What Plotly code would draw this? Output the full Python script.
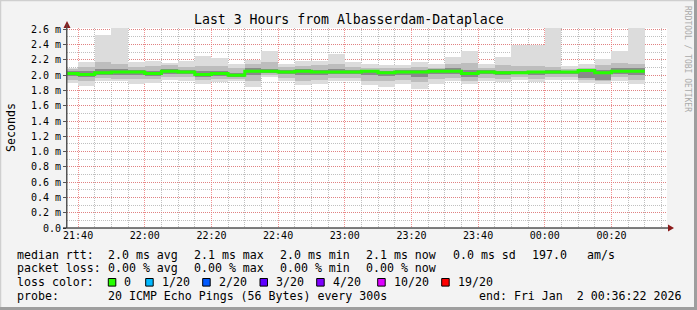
import plotly.graph_objects as go
import pandas as pd

# ---------------- data ----------------
bin_start = pd.date_range("2026-01-01 21:35:00", periods=35, freq="5min")

ping_max = [2.09, 2.17, 2.53, 2.70, 2.17, 2.19, 2.16, 2.19, 2.25, 2.23, 2.14, 2.20, 2.32, 2.15, 2.18,
            2.19, 2.28, 2.17, 2.15, 2.13, 2.13, 2.17, 2.14, 2.24, 2.32, 2.15, 2.24, 2.39, 2.39, 2.70,
            2.12, 2.14, 2.21, 2.31, 2.70]
ping_min = [1.90, 1.86, 1.93, 1.92, 1.88, 1.90, 1.94, 1.93, 1.89, 1.91, 1.92, 1.84, 1.98, 1.92, 1.87,
            1.88, 1.92, 1.93, 1.87, 1.84, 1.88, 1.82, 1.89, 1.93, 1.88, 1.92, 1.91, 1.94, 1.91, 1.94,
            1.94, 1.90, 1.89, 1.93, 1.89]
mid_hi = [2.08, 2.11, 2.17, 2.15, 2.11, 2.12, 2.13, 2.11, 2.12, 2.12, 2.09, 2.15, 2.17, 2.11, 2.12,
          2.13, 2.14, 2.11, 2.10, 2.09, 2.10, 2.11, 2.10, 2.15, 2.16, 2.10, 2.13, 2.12, 2.12, 2.11,
          2.08, 2.10, 2.13, 2.16, 2.14]
mid_lo = [1.94, 1.93, 1.96, 1.95, 1.95, 1.95, 1.98, 1.97, 1.94, 1.95, 1.95, 1.93, 2.00, 1.96, 1.93,
          1.94, 1.96, 1.96, 1.93, 1.92, 1.94, 1.91, 1.95, 1.96, 1.93, 1.96, 1.95, 1.97, 1.95, 1.97,
          1.97, 1.94, 1.92, 1.97, 1.94]
core_hi = [2.05, 2.05, 2.08, 2.08, 2.07, 2.06, 2.08, 2.07, 2.05, 2.06, 2.03, 2.09, 2.08, 2.07, 2.08,
           2.07, 2.08, 2.07, 2.07, 2.06, 2.07, 2.07, 2.08, 2.09, 2.07, 2.07, 2.06, 2.06, 2.06, 2.07,
           2.06, 2.08, 2.07, 2.09, 2.09]
core_lo = [1.99, 1.97, 2.00, 2.00, 2.00, 1.99, 2.02, 2.01, 1.98, 1.99, 1.98, 2.00, 2.03, 2.01, 2.00,
           2.00, 2.01, 2.01, 2.00, 1.99, 2.00, 1.98, 2.01, 2.02, 1.98, 2.01, 2.00, 2.01, 2.00, 2.01,
           2.01, 1.96, 1.94, 2.02, 2.00]
median = [2.02, 2.01, 2.03, 2.04, 2.04, 2.02, 2.05, 2.04, 2.01, 2.02, 2.00, 2.05, 2.05, 2.04, 2.05,
          2.04, 2.04, 2.04, 2.05, 2.03, 2.04, 2.04, 2.05, 2.05, 2.02, 2.04, 2.03, 2.03, 2.04, 2.04,
          2.04, 2.06, 2.03, 2.05, 2.05]

y_ticks = [0.0, 0.2, 0.4, 0.6, 0.8, 1.0, 1.2, 1.4, 1.6, 1.8, 2.0, 2.2, 2.4, 2.6]
y_ticktext = ["0.0"] + ["%.1f m" % v for v in y_ticks[1:]]

loss_labels = ["0", "1/20", "2/20", "3/20", "4/20", "10/20", "19/20"]
loss_colors = ["#26ff00", "#00b8ff", "#0059ff", "#5e00ff", "#7e00ff", "#dd00ff", "#ff0000"]

# ---------------- geometry helpers ----------------
W, H = 697, 310
L, R, T, B = 67, 667, 28, 228
MONO = "DejaVu Sans Mono"


def px(x):
    return (x - L) / (R - L)


def py(y):
    return (B - y) / (B - T)


centers = bin_start + pd.Timedelta(minutes=2.5)
BW = 300000  # 5 min in ms

fig = go.Figure()


def layer(lo, hi, color):
    fig.add_trace(go.Bar(
        x=centers, y=[h - l for h, l in zip(hi, lo)], base=lo, width=BW,
        marker=dict(color=color, line=dict(width=0)), showlegend=False, hoverinfo="skip"))


layer(ping_min, ping_max, "#dcdcdc")
layer(mid_lo, mid_hi, "#bdbdbd")
layer(core_lo, core_hi, "#8a8a8a")

med_x = list(bin_start) + [bin_start[-1] + pd.Timedelta(minutes=5)]
med_y = median + [median[-1]]
fig.add_trace(go.Scatter(x=med_x, y=med_y, mode="lines", line=dict(color="#26ff00", width=3, shape="hv"),
                         showlegend=False, hoverinfo="skip"))

fig.update_layout(
    width=W, height=H, autosize=False,
    margin=dict(l=L, r=W - R, t=T, b=H - B, pad=0),
    paper_bgcolor="#f3f3f3", plot_bgcolor="#ffffff",
    barmode="overlay", bargap=0,
    font=dict(family=MONO, size=10, color="#000000"),
    showlegend=False,
)

fig.update_xaxes(
    type="date", range=["2026-01-01 21:36:40", "2026-01-02 00:36:40"],
    tick0="2026-01-01 21:40:00", dtick=1200000, tickformat="%H:%M",
    showgrid=True, gridcolor="rgba(235,110,110,0.75)", griddash="1px,1px", gridwidth=1,
    minor=dict(dtick=300000, tick0="2026-01-01 21:40:00", showgrid=True,
               gridcolor="rgba(150,150,150,0.6)", griddash="1px,1px", gridwidth=1),
    showline=False, zeroline=False, ticks="", tickfont=dict(family=MONO, size=10, color="#000"),
    fixedrange=True,
)
fig.update_yaxes(
    range=[0, 2.617], tickvals=y_ticks, ticktext=y_ticktext,
    showgrid=True, gridcolor="rgba(235,110,110,0.75)", griddash="1px,1px", gridwidth=1,
    minor=dict(dtick=0.1, tick0=0, showgrid=True,
               gridcolor="rgba(150,150,150,0.6)", griddash="1px,1px", gridwidth=1),
    showline=True, linecolor="#555555", linewidth=1,
    ticks="outside", ticklen=3, tickcolor="#555555",
    zeroline=False, tickfont=dict(family=MONO, size=10, color="#000"),
    fixedrange=True,
)

shapes = []
# x axis line with arrow
shapes.append(dict(type="line", xref="paper", yref="paper", x0=px(L - 4), x1=px(670), y0=py(B), y1=py(B),
                   line=dict(color="#000000", width=1.2)))
shapes.append(dict(type="path", xref="paper", yref="paper",
                   path="M %f %f L %f %f L %f %f Z" % (px(668), py(B - 3.5), px(674), py(B), px(668), py(B + 3.5)),
                   fillcolor="#8b1a1a", line=dict(width=0)))
# y axis arrow
shapes.append(dict(type="path", xref="paper", yref="paper",
                   path="M %f %f L %f %f L %f %f Z" % (px(L - 3.5), py(28), px(L), py(21), px(L + 3.5), py(28)),
                   fillcolor="#8b1a1a", line=dict(width=0)))
shapes.append(dict(type="line", xref="paper", yref="paper", x0=px(L), x1=px(L), y0=py(B), y1=py(24),
                   line=dict(color="#555555", width=1)))
# frame
shapes.append(dict(type="line", xref="paper", yref="paper", x0=px(0), x1=px(W), y0=py(0.5), y1=py(0.5),
                   line=dict(color="#cfcfcf", width=1.5)))
shapes.append(dict(type="line", xref="paper", yref="paper", x0=px(0.5), x1=px(0.5), y0=py(0), y1=py(H),
                   line=dict(color="#cfcfcf", width=1.5)))
shapes.append(dict(type="line", xref="paper", yref="paper", x0=px(W - 1.5), x1=px(W - 1.5), y0=py(0), y1=py(H),
                   line=dict(color="#9e9e9e", width=3)))
shapes.append(dict(type="line", xref="paper", yref="paper", x0=px(0), x1=px(W), y0=py(H - 1.5), y1=py(H - 1.5),
                   line=dict(color="#9e9e9e", width=3)))

annotations = []


def text(x, y, s, size=11.6, anchor="left", color="#000000", angle=0):
    annotations.append(dict(xref="paper", yref="paper", x=px(x), y=py(y), text=s, showarrow=False,
                            xanchor=anchor, yanchor="middle", textangle=angle, borderpad=0,
                            font=dict(family=MONO, size=size, color=color)))


text(348.5, 20, "Last 3 Hours from Albasserdam-Dataplace", size=13.2, anchor="center")
text(11, 128, "Seconds", size=11.6, anchor="center", angle=-90)
text(688, 59, "RRDTOOL / TOBI OETIKER", size=8, anchor="center", color="#aaaaaa", angle=90)

r1 = 254.5
for x, s in [(16, "median rtt:"), (107, "2.0 ms avg"), (193, "2.1 ms max"), (279, "2.0 ms min"),
             (365, "2.1 ms now"), (451.5, "0.0 ms sd"), (530.5, "197.0"), (586, "am/s")]:
    text(x, r1, s)
r2 = 268.3
for x, s in [(16, "packet loss:"), (107, "0.00 % avg"), (193, "0.00 % max"), (279, "0.00 % min"),
             (365, "0.00 % now")]:
    text(x, r2, s)
r3 = 282.3
text(16, r3, "loss color:")
box_x = [108.3, 145.7, 202.7, 260, 316.7, 377.7, 441.7]
for bx, lab, col in zip(box_x, loss_labels, loss_colors):
    shapes.append(dict(type="rect", xref="paper", yref="paper", x0=px(bx), x1=px(bx + 7.5),
                       y0=py(r3 - 3.8), y1=py(r3 + 3.8), fillcolor=col, line=dict(color="#000000", width=1)))
    text(bx + 14.8, r3, lab)
r4 = 296
text(16, r4, "probe:")
text(107, r4, "20 ICMP Echo Pings (56 Bytes) every 300s")
text(478, r4, "end: Fri Jan \u00a02 00:36:22 2026")

fig.update_layout(shapes=shapes, annotations=annotations)
fig.write_html("out.html")
